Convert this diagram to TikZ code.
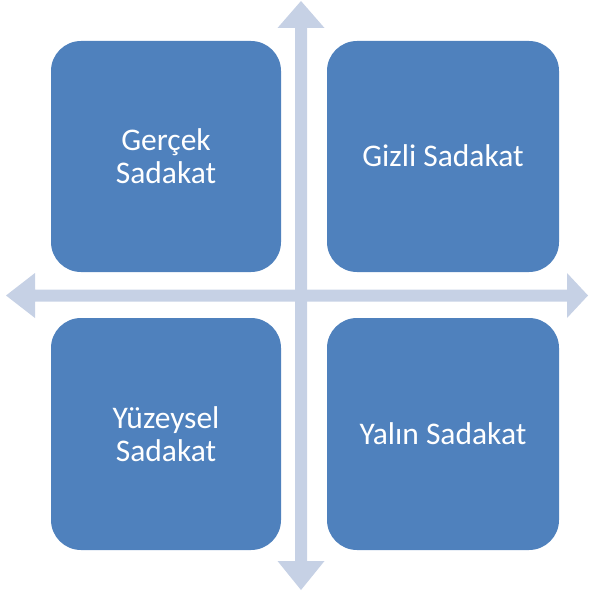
\documentclass[tikz,border=0pt]{standalone}
\usepackage{fontspec}
\setmainfont{Carlito}
\definecolor{boxblue}{RGB}{79,129,189}
\definecolor{arrowblue}{RGB}{198,209,229}
\begin{document}
\begin{tikzpicture}[x=1pt,y=-1pt,
  quad/.style={fill=boxblue,draw=none,rounded corners=30pt},
  lbl/.style={text=white,font=\fontsize{31.5}{33}\selectfont,align=center,inner sep=0pt},
  axis/.style={fill=arrowblue,draw=none}]
\useasboundingbox (0,0) rectangle (589,596);
% vertical double arrow
\fill[axis] (301,1) -- (324.5,28) -- (307,28) -- (307,561) -- (324.5,561) -- (301,590)
  -- (277.5,561) -- (295,561) -- (295,28) -- (277.5,28) -- cycle;
% horizontal double arrow
\fill[axis] (6,295.5) -- (35,273) -- (35,289.5) -- (567,289.5) -- (567,273) -- (588,295.5)
  -- (567,318) -- (567,301.5) -- (35,301.5) -- (35,318) -- cycle;
% boxes
\fill[quad] (51,41) rectangle (281,272);
\fill[quad] (327,41) rectangle (559,272);
\fill[quad] (51,318) rectangle (281,550);
\fill[quad] (327,318) rectangle (559,550);
\node[lbl] (tl) at (166,156) {Gerçek\\Sadakat};
\node[lbl] (tr) at (443,156) {Gizli Sadakat};
\node[lbl] (bl) at (166,434) {Yüzeysel\\Sadakat};
\node[lbl] (br) at (443,434) {Yalın Sadakat};
\end{tikzpicture}
\end{document}
